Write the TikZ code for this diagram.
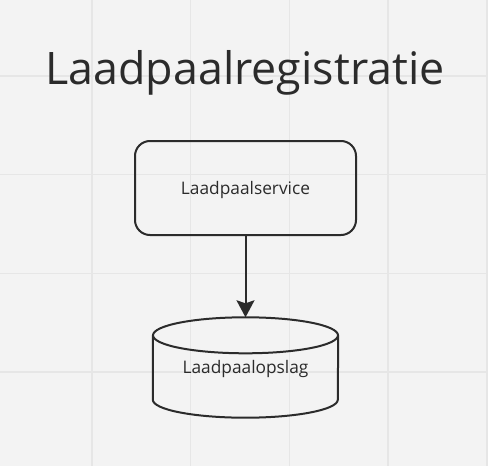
\documentclass[tikz,border=0pt]{standalone}
\usepackage{fontspec}
\setmainfont{Open Sans}
\usetikzlibrary{arrows.meta, positioning, calc}

\definecolor{bgcol}{HTML}{F3F3F3}
\definecolor{gridcol}{HTML}{E6E6E6}
\definecolor{inkcol}{HTML}{2B2B2B}

\tikzset{
  strokeline/.style={draw=inkcol, line width=2pt},
  servicebox/.style={strokeline, rounded corners=15pt, minimum width=221pt, minimum height=94pt,
    font=\fontsize{17.3}{20}\selectfont, text height=12.4pt, text depth=0pt, text=inkcol},
  storebox/.style={minimum width=185pt, minimum height=100pt,
    font=\fontsize{17.3}{20}\selectfont, text height=12.4pt, text depth=0pt, text=inkcol},
}

\begin{document}
\begin{tikzpicture}[x=1pt, y=1pt]
        \useasboundingbox[fill=bgcol] (0,0) rectangle (488,-466);
%
        \foreach \gx in {92,190.7,289.4,388.1,486.8} {
          \draw[gridcol, line width=1.5pt] (\gx,0) -- (\gx,-466);
        }
        \foreach \gy in {-76,-174.7,-273.4,-372.1} {
          \draw[gridcol, line width=1.5pt] (0,\gy) -- (488,\gy);
        }
%
        \node[anchor=base, font=\fontsize{44.8}{48}\selectfont, text=inkcol] (title) at (245,-84.3) {Laadpaalregistratie};
%
        \node[servicebox] (service) at (245.5,-188) {Laadpaalservice};
        \node[storebox] (store) at (245.5,-367.5) {Laadpaalopslag};
%
        \draw[strokeline] ([yshift=-18pt]store.north west) -- ([yshift=18pt]store.south west)
          arc[start angle=180, end angle=360, x radius=92.5pt, y radius=18pt]
          -- ([yshift=-18pt]store.north east);
        \draw[strokeline] ([yshift=-18pt]store.north) ellipse[x radius=92.5pt, y radius=18pt];
%
        \draw[strokeline, -{Stealth[length=17pt, width=18pt, inset=3pt]}] (service) -- (store.north);
      \end{tikzpicture}
\end{document}
